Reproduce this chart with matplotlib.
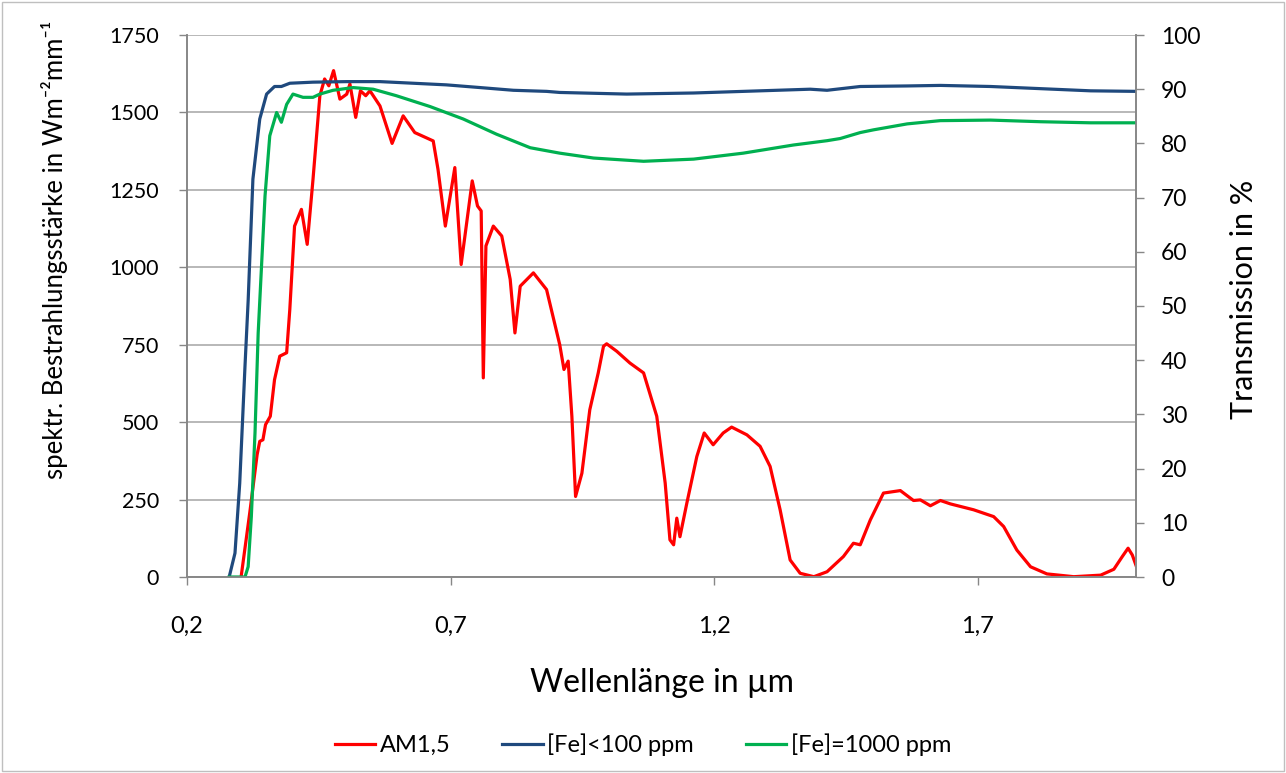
import matplotlib
matplotlib.use("Agg")
import matplotlib.pyplot as plt
from matplotlib.patches import Rectangle
from matplotlib.ticker import FixedLocator, FuncFormatter

plt.rcParams['font.family'] = ['Lato', 'DejaVu Sans']

# AM1,5 spectral irradiance (left axis)
am_wl = [0.303, 0.319, 0.333, 0.338, 0.344, 0.349, 0.358, 0.366, 0.376, 0.389, 0.395, 0.404,
         0.417, 0.428, 0.439, 0.452, 0.461, 0.469, 0.478, 0.490, 0.503, 0.509, 0.520, 0.529,
         0.539, 0.547, 0.566, 0.589, 0.610, 0.632, 0.667, 0.676, 0.690, 0.708, 0.720, 0.741,
         0.751, 0.758, 0.762, 0.767, 0.781, 0.797, 0.813, 0.822, 0.832, 0.857, 0.882, 0.907,
         0.915, 0.923, 0.930, 0.937, 0.949, 0.964, 0.980, 0.990, 0.996, 1.015, 1.040, 1.066,
         1.091, 1.107, 1.116, 1.123, 1.129, 1.135, 1.148, 1.167, 1.181, 1.198, 1.217, 1.233,
         1.262, 1.287, 1.306, 1.325, 1.344, 1.363, 1.389, 1.414, 1.445, 1.464, 1.477, 1.496,
         1.521, 1.553, 1.578, 1.591, 1.610, 1.629, 1.648, 1.692, 1.730, 1.749, 1.774, 1.800,
         1.831, 1.882, 1.933, 1.958, 1.974, 1.985, 1.993, 2.002]
am_val = [5, 207, 395, 438, 443, 492, 519, 637, 713, 724, 864, 1133,
          1187, 1074, 1284, 1554, 1608, 1586, 1635, 1543, 1559, 1592, 1484, 1570,
          1554, 1570, 1521, 1400, 1489, 1435, 1408, 1317, 1133, 1322, 1009, 1279,
          1198, 1182, 643, 1069, 1133, 1101, 961, 788, 939, 982, 928, 750,
          670, 697, 519, 260, 335, 540, 659, 745, 753, 729, 691, 659,
          519, 303, 120, 104, 190, 130, 238, 389, 465, 427, 465, 484,
          459, 422, 357, 217, 55, 12, 1, 17, 66, 109, 104, 184,
          271, 279, 247, 249, 230, 247, 236, 217, 195, 163, 87, 33,
          10, 1, 6, 25, 66, 93, 71, 28]

# Transmission [Fe]<100 ppm (right axis, %)
lo_wl = [0.280, 0.291, 0.300, 0.310, 0.316, 0.325, 0.338, 0.351, 0.366, 0.379, 0.395, 0.439,
         0.503, 0.566, 0.629, 0.692, 0.756, 0.819, 0.882, 0.907, 1.034, 1.161, 1.287, 1.382,
         1.414, 1.477, 1.566, 1.629, 1.724, 1.819, 1.914, 2.000]
lo_val = [0.0, 4.4, 17.3, 38.9, 51.0, 73.4, 84.5, 89.1, 90.5, 90.5, 91.1, 91.3,
          91.4, 91.4, 91.1, 90.8, 90.3, 89.8, 89.6, 89.4, 89.1, 89.3, 89.7, 90.0,
          89.8, 90.5, 90.6, 90.7, 90.5, 90.1, 89.7, 89.6]

# Transmission [Fe]=1000 ppm (right axis, %)
hi_wl = [0.280, 0.310, 0.316, 0.322, 0.329, 0.335, 0.348, 0.357, 0.370, 0.379, 0.389, 0.401,
         0.420, 0.439, 0.452, 0.477, 0.515, 0.553, 0.597, 0.661, 0.724, 0.787, 0.851, 0.907,
         0.971, 1.066, 1.161, 1.255, 1.350, 1.414, 1.439, 1.477, 1.502, 1.566, 1.629, 1.724,
         1.819, 1.914, 2.000]
hi_val = [0.0, 0.0, 1.9, 11.1, 26.6, 45.0, 70.3, 81.4, 85.7, 83.9, 87.2, 89.1,
          88.5, 88.5, 89.1, 89.8, 90.3, 90.0, 88.8, 86.8, 84.5, 81.7, 79.2, 78.2,
          77.3, 76.7, 77.1, 78.2, 79.7, 80.5, 80.9, 82.0, 82.5, 83.6, 84.2, 84.3,
          84.0, 83.8, 83.8]

x_ticks = [0.2, 0.7, 1.2, 1.7]
left_ticks = [0, 250, 500, 750, 1000, 1250, 1500, 1750]
right_ticks = [0, 10, 20, 30, 40, 50, 60, 70, 80, 90, 100]
labels = ["AM1,5", "[Fe]<100 ppm", "[Fe]=1000 ppm"]

RED = "#FF0000"
BLUE = "#1F497D"
GREEN = "#00B050"
AXC = "#878787"
GRID = "#ABABAB"

W, H = 1286, 773
fig = plt.figure(figsize=(W / 100, H / 100), dpi=100)
fig.patches.append(Rectangle((0.0015, 0.002), 0.997, 0.996, transform=fig.transFigure,
                             fill=False, edgecolor="#BFBFBF", linewidth=1.0))
x0, x1, y0, y1 = 187, 1136, 35, 577
ax = fig.add_axes([x0 / W, 1 - y1 / H, (x1 - x0) / W, (y1 - y0) / H])
ax2 = ax.twinx()

l1, = ax.plot(am_wl, am_val, color=RED, lw=2.3, solid_joinstyle='round')
l2, = ax2.plot(lo_wl, lo_val, color=BLUE, lw=2.3, solid_joinstyle='round')
l3, = ax2.plot(hi_wl, hi_val, color=GREEN, lw=2.3, solid_joinstyle='round')

ax.set_xlim(0.2, 2.0)
ax.set_ylim(0, 1750)
ax2.set_ylim(0, 100)

ax.xaxis.set_major_locator(FixedLocator(x_ticks))
ax.xaxis.set_major_formatter(FuncFormatter(lambda v, p: f"{v:.1f}".replace(".", ",")))
ax.yaxis.set_major_locator(FixedLocator(left_ticks))
ax2.yaxis.set_major_locator(FixedLocator(right_ticks))

ax.grid(axis='y', color=GRID, lw=1.2)
ax.set_axisbelow(True)

for a in (ax, ax2):
    for s in a.spines.values():
        s.set_color(AXC)
        s.set_linewidth(1.2)
    a.spines['top'].set_visible(False)
    a.tick_params(colors=AXC, labelcolor="black", length=6, width=1.0, direction='out')
ax.tick_params(axis='x', pad=22, labelsize=17)
ax.tick_params(axis='y', pad=14, labelsize=15.5)
ax2.tick_params(axis='y', pad=12, labelsize=16.5)

ax.set_xlabel("Wellenlänge in µm", fontsize=23)
ax.xaxis.set_label_coords(0.5, -(692 - y1) / (y1 - y0), transform=ax.transAxes)
ax.xaxis.label.set_va('baseline')

ax.set_ylabel("spektr. Bestrahlungsstärke in Wm⁻²mm⁻¹", fontsize=18.5)
ax.yaxis.set_label_coords((55 - x0) / (x1 - x0), (y1 - 250) / (y1 - y0))
ax.yaxis.label.set_va('center')

ax2.set_ylabel("Transmission in %", fontsize=22, rotation=90)
ax2.yaxis.set_label_coords((1244 - x0) / (x1 - x0), (y1 - 299) / (y1 - y0))
ax2.yaxis.label.set_va('center')

fig.legend([l1, l2, l3], labels, loc='center', bbox_to_anchor=(0.5, 1 - 745 / H), ncol=3,
           frameon=False, fontsize=17, handlelength=1.7, handletextpad=0.2, columnspacing=2.2)

fig.savefig("out.png", dpi=100)
